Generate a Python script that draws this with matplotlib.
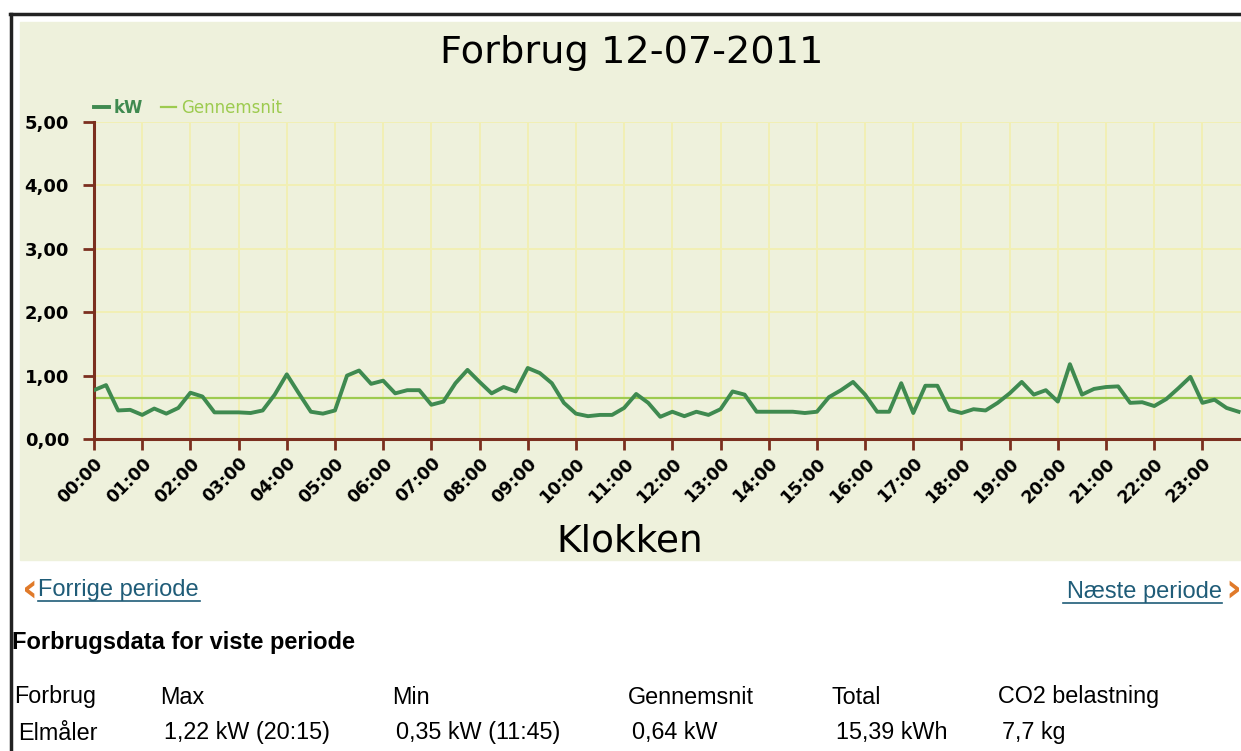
import numpy as np
import matplotlib.pyplot as plt
from matplotlib.lines import Line2D

# forbrug pr. kvarter, 12-07-2011 (kW)
kw = [0.77, 0.85, 0.45, 0.46,
      0.38, 0.48, 0.40, 0.49,
      0.73, 0.67, 0.42, 0.42,
      0.42, 0.41, 0.45, 0.70,
      1.02, 0.72, 0.43, 0.40,
      0.45, 1.00, 1.08, 0.87,
      0.92, 0.72, 0.77, 0.77,
      0.54, 0.59, 0.88, 1.09,
      0.90, 0.72, 0.82, 0.75,
      1.12, 1.04, 0.88, 0.57,
      0.40, 0.36, 0.38, 0.38,
      0.49, 0.71, 0.57, 0.35,
      0.43, 0.36, 0.43, 0.38,
      0.47, 0.75, 0.70, 0.43,
      0.43, 0.43, 0.43, 0.41,
      0.43, 0.66, 0.77, 0.90,
      0.70, 0.43, 0.43, 0.88,
      0.41, 0.84, 0.84, 0.46,
      0.41, 0.47, 0.45, 0.57,
      0.72, 0.90, 0.70, 0.77,
      0.59, 1.18, 0.70, 0.79,
      0.82, 0.83, 0.57, 0.58,
      0.52, 0.63, 0.80, 0.98,
      0.57, 0.62, 0.49, 0.43]
gennemsnit = 0.64
hour_labels = ['%02d:00' % h for h in range(24)]
y_ticks = [0, 1, 2, 3, 4, 5]

table_head = ['Forbrug', 'Max', 'Min', 'Gennemsnit', 'Total', 'CO2 belastning']
table_row = ['Elmåler', '1,22 kW (20:15)', '0,35 kW (11:45)', '0,64 kW', '15,39 kWh', '7,7 kg']

t = np.arange(len(kw)) * 0.25

bg = '#eef1dc'
brown = '#7b2f1f'
dark_green = '#3f8a50'
light_green = '#9dcb4f'
link_blue = '#1f5c78'
orange = '#e07a2a'

fig = plt.figure(figsize=(12.41, 7.51), dpi=100)
W, H = 1241, 751

# chart panel background
fig.patches.append(plt.Rectangle((20 / W, 1 - 560 / H), 1 - 20 / W, (560 - 22) / H,
                                 transform=fig.transFigure, color=bg, zorder=-5))
# page border from the scan
fig.add_artist(Line2D([10 / W, 1], [1 - 14 / H, 1 - 14 / H], color='#222222', lw=2.5))
fig.add_artist(Line2D([11 / W, 11 / W], [0, 1 - 14 / H], color='#222222', lw=2.5))

ax = fig.add_axes([94 / W, 1 - 439 / H, 1 - 94 / W, (439 - 122) / H])
ax.set_facecolor(bg)
ax.plot(t, kw, color=dark_green, lw=2.8, label='kW', zorder=3)
ax.axhline(gennemsnit, color=light_green, lw=1.6, label='Gennemsnit', zorder=2)

ax.set_xlim(0, 23.8)
ax.set_ylim(0, 5)
ax.set_xticks(range(24))
ax.set_xticklabels(hour_labels, rotation=45, ha='right', rotation_mode='anchor',
                   fontsize=12.5, fontweight='bold')
ax.set_yticks(y_ticks)
ax.set_yticklabels(['%d,00' % v for v in y_ticks], fontsize=13, fontweight='bold')
ax.tick_params(axis='both', colors=brown, length=8, width=2, labelcolor='black', pad=3)
ax.tick_params(axis='y', pad=10)
ax.grid(True, color='#f2efb4', lw=1.4)
ax.set_axisbelow(True)
for s in ['top', 'right']:
    ax.spines[s].set_visible(False)
for s in ['left', 'bottom']:
    ax.spines[s].set_color(brown)
    ax.spines[s].set_linewidth(2.2)

leg = ax.legend(loc='lower left', bbox_to_anchor=(-0.006, 0.995), ncol=2, frameon=False,
                handlelength=0.9, handletextpad=0.3, columnspacing=1.1,
                labelcolor='linecolor', prop={'size': 12}, borderaxespad=0)
leg.get_texts()[0].set_fontweight('bold')

fig.text(632 / W, 1 - 53 / H, 'Forbrug 12-07-2011', ha='center', va='center', fontsize=27.5)
fig.text(630 / W, 1 - 542 / H, 'Klokken', ha='center', va='center', fontsize=27)

# links under the chart
fig.text(22 / W, 1 - 590 / H, '‹', color=orange, fontsize=28, fontweight='bold',
         ha='left', va='center')
fig.text(38 / W, 1 - 590 / H, 'Forrige periode', color=link_blue, fontsize=17,
         family='Liberation Sans', ha='left', va='center')
fig.add_artist(Line2D([38 / W, 200 / W], [1 - 601 / H, 1 - 601 / H], color=link_blue, lw=1.2))
fig.text(1222 / W, 1 - 592 / H, 'Næste periode', color=link_blue, fontsize=17,
         family='Liberation Sans', ha='right', va='center')
fig.add_artist(Line2D([1063 / W, 1222 / W], [1 - 603 / H, 1 - 603 / H], color=link_blue, lw=1.2))
fig.text(1225 / W, 1 - 590 / H, '›', color=orange, fontsize=28, fontweight='bold',
         ha='left', va='center')

fig.text(12 / W, 1 - 643 / H, 'Forbrugsdata for viste periode', fontsize=17,
         fontweight='bold', family='Liberation Sans', ha='left', va='center')

col_x = [14, 160, 392, 628, 832, 998]
for x, head, val in zip(col_x, table_head, table_row):
    fig.text(x / W, 1 - 697 / H, head, fontsize=16.8, family='Liberation Sans',
             ha='left', va='center')
    fig.text((x + 4) / W, 1 - 733 / H, val, fontsize=16.8, family='Liberation Sans',
             ha='left', va='center')

fig.savefig('out.png', dpi=100)
